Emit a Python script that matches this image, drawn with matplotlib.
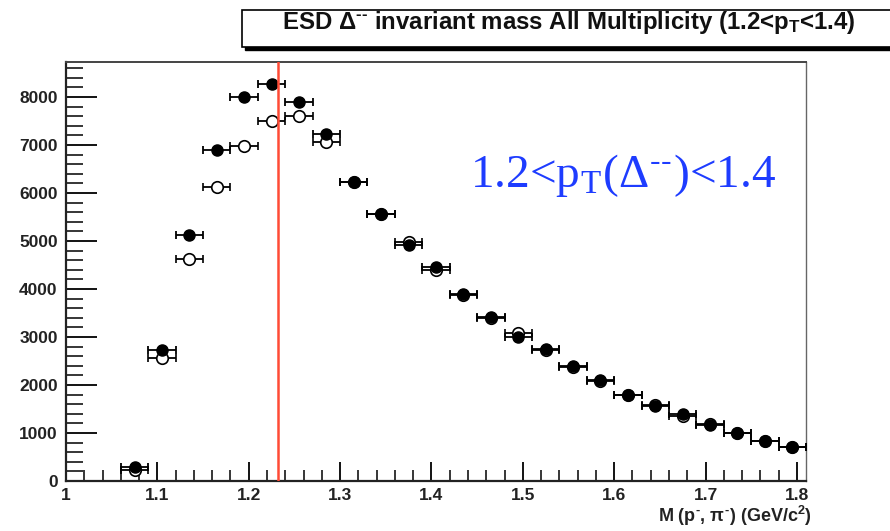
import matplotlib
matplotlib.use("Agg")
import matplotlib.pyplot as plt
from matplotlib.ticker import MultipleLocator
from matplotlib.patches import Rectangle

# Data
mass_centers = [1.075, 1.105, 1.135, 1.165, 1.195, 1.225, 1.255, 1.285, 1.315, 1.345,
                1.375, 1.405, 1.435, 1.465, 1.495, 1.525, 1.555, 1.585, 1.615, 1.645,
                1.675, 1.705, 1.735, 1.765, 1.795]
filled_counts = [290, 2720, 5130, 6890, 8000, 8270, 7900, 7220, 6220, 5570,
                 4920, 4450, 3890, 3420, 3000, 2740, 2400, 2100, 1800, 1560,
                 1390, 1160, 990, 840, 700]
open_counts = [230, 2560, 4620, 6120, 6990, 7510, 7610, 7070, 6220, 5570,
               4990, 4400, 3870, 3400, 3090, 2720, 2380, 2080, 1790, 1580,
               1350, 1180, 1010, 830, 700]
bin_half_width = 0.015
delta_mass = 1.232
x_ticks = [1.0, 1.1, 1.2, 1.3, 1.4, 1.5, 1.6, 1.7, 1.8]
x_tick_labels = ["1", "1.1", "1.2", "1.3", "1.4", "1.5", "1.6", "1.7", "1.8"]
y_ticks = [0, 1000, 2000, 3000, 4000, 5000, 6000, 7000, 8000]

plt.rcParams['mathtext.fontset'] = 'custom'
plt.rcParams['mathtext.rm'] = 'Liberation Sans:bold'
plt.rcParams['mathtext.it'] = 'Liberation Sans:bold'
plt.rcParams['mathtext.bf'] = 'Liberation Sans:bold'

fig = plt.figure(figsize=(8.9, 5.31), dpi=100)
ax = fig.add_axes([66/890, 1-481/531, (806-66)/890, (481-62)/531])

ax.errorbar(mass_centers, open_counts, xerr=bin_half_width, fmt='o', ms=8.3,
            mfc='white', mec='black', mew=1.2, ecolor='black', elinewidth=1.3,
            capsize=2.7, capthick=1.3, zorder=3)
ax.errorbar(mass_centers, filled_counts, xerr=bin_half_width, fmt='o', ms=8.0,
            mfc='black', mec='black', ecolor='black', elinewidth=1.3,
            capsize=2.7, capthick=1.3, zorder=4)

ax.axvline(delta_mass, color='#ff4a35', lw=1.8, zorder=5)

ax.set_xlim(1.0, 1.81)
ax.set_ylim(0, 8730)
ax.set_xticks(x_ticks)
ax.set_xticklabels(x_tick_labels)
ax.set_yticks(y_ticks)
ax.set_yticklabels([str(v) for v in y_ticks])
ax.xaxis.set_minor_locator(MultipleLocator(0.02))
ax.yaxis.set_minor_locator(MultipleLocator(200))
ax.tick_params(axis='x', which='major', direction='in', length=14, width=1.3, pad=5)
ax.tick_params(axis='x', which='minor', direction='in', length=8, width=1.1)
ax.tick_params(axis='y', which='major', direction='in', length=22, width=1.3, pad=6)
ax.tick_params(axis='y', which='minor', direction='in', length=12, width=1.1)
ax.tick_params(top=False, right=False, which='both')
for lab in ax.get_xticklabels() + ax.get_yticklabels():
    lab.set_fontfamily('Liberation Sans')
    lab.set_fontweight('bold')
    lab.set_fontsize(12.5)
    lab.set_color('#222222')

for s in ['left', 'bottom']:
    ax.spines[s].set_linewidth(1.6)
    ax.spines[s].set_color('#222222')
ax.spines['top'].set_linewidth(1.4)
ax.spines['top'].set_color('#444444')
ax.spines['right'].set_linewidth(1.0)
ax.spines['right'].set_color('#666666')

# x-axis label
fig.text(812/890, 1-516/531, r"M (p$^{\text{-}}$, $\pi^{\text{-}}$) (GeV/c$^{2}$)",
         ha='right', va='center', fontsize=13, fontweight='bold',
         family='Liberation Sans', color='#222222')

# Title box with shadow (extends past the right edge)
shadow = Rectangle((245/890, 1-50/531), 700/890, (47-10)/531,
                   transform=fig.transFigure, facecolor='black', edgecolor='black', lw=1)
box = Rectangle((242/890, 1-47/531), 700/890, (47-10)/531,
                transform=fig.transFigure, facecolor='white', edgecolor='black', lw=1.2)
fig.add_artist(shadow)
fig.add_artist(box)
fig.text(282/890, 1-23/531, r"ESD $\Delta^{\text{--}}$ invariant mass All Multiplicity (1.2<p$_{T}$<1.4)",
         ha='left', va='center', fontsize=17.3, fontweight='bold',
         family='Liberation Sans', color='#111111')

# Blue annotation
fig.text(470/890, 1-187/531, r"1.2<p$_{\mathregular{T}}$(Δ$^{\text{--}}$)<1.4",
         ha='left', va='baseline', fontsize=34, family='Liberation Serif',
         color='#1e3cff', math_fontfamily='stix')

fig.savefig('out.png', dpi=100)
